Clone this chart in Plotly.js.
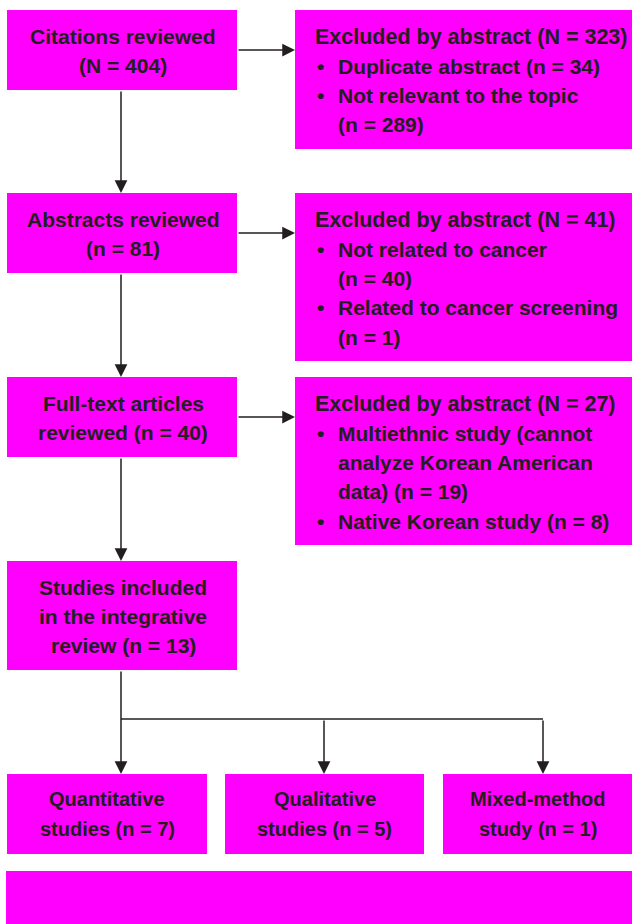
<!DOCTYPE html>
<html><head><meta charset="utf-8">
<script src="https://cdn.plot.ly/plotly-3.0.1.min.js"></script>
<style>html,body{margin:0;padding:0;background:#fff}#c{width:633px;height:924px}</style>
</head><body><div id="c"></div>
<script>
// ---- data ----
const stageLabels = [
  ["Citations reviewed", "(N = 404)"],
  ["Abstracts reviewed", "(n = 81)"],
  ["Full-text articles", "reviewed (n = 40)"],
  ["Studies included", "in the integrative", "review (n = 13)"]
];
const excludedHeadings = ["Excluded by abstract (N = 323)", "Excluded by abstract (N = 41)", "Excluded by abstract (N = 27)"];
const excludedItems = [
  [["Duplicate abstract (n = 34)"], ["Not relevant to the topic", "(n = 289)"]],
  [["Not related to cancer", "(n = 40)"], ["Related to cancer screening", "(n = 1)"]],
  [["Multiethnic study (cannot", "analyze Korean American", "data) (n = 19)"], ["Native Korean study (n = 8)"]]
];
const typeLabels = [
  ["Quantitative", "studies (n = 7)"],
  ["Qualitative", "studies (n = 5)"],
  ["Mixed-method", "study (n = 1)"]
];

// ---- layout geometry ----
const FILL = "#FF00FF", INK = "#231F20";
const FONT = "Liberation Sans, Arial, sans-serif";
const stageBoxes = [[7,237,10,90],[7,237,193,273],[7,237,377,457],[7,237,561,670]];
const exclBoxes = [[295,632,10,149],[295,632,193,361],[295,632,377,545]];
const typeBoxes = [[7,207,774,854],[225,424,774,854],[443,632,774,854]];
const footerBox = [6,632,871,924];
const LH = 29.3;

const shapes = [];
const annotations = [];
function rect(b){ shapes.push({type:"rect", xref:"x", yref:"y", x0:b[0], x1:b[1], y0:b[2], y1:b[3], fillcolor:FILL, line:{width:0}, layer:"below"}); }
function txt(x, y, s, anchor, size){
  annotations.push({x:x, y:y, xref:"x", yref:"y", text:"<b>"+s+"</b>", showarrow:false,
    xanchor:anchor, yanchor:"middle",
    font:{family:FONT, size: size || 21, color:INK, weight:700}});
}
function line(x0,y0,x1,y1){ shapes.push({type:"line", xref:"x", yref:"y", x0:x0,y0:y0,x1:x1,y1:y1, line:{color:INK, width:1.5}}); }
function arrow(x0,y0,x1,y1){
  annotations.push({x:x1, y:y1, ax:x0, ay:y0, xref:"x", yref:"y", axref:"x", ayref:"y", text:"", showarrow:true,
    arrowhead:2, arrowsize:1.7, arrowwidth:1.5, arrowcolor:INK, standoff:0});
}

stageLabels.forEach((lines, i) => {
  const b = stageBoxes[i]; rect(b);
  const cx = (b[0]+b[1])/2 + 1, cy = (b[2]+b[3])/2;
  lines.forEach((s, j) => txt(cx, cy + 1 + (j - (lines.length-1)/2)*LH, s, "center"));
});
excludedHeadings.forEach((h, i) => {
  const b = exclBoxes[i]; rect(b);
  let y = b[2] + 27;
  txt(313, y, h, "left", 21.5);
  excludedItems[i].forEach(item => {
    item.forEach((s, j) => {
      y += LH;
      if (j === 0) txt(315, y, "•", "left");
      txt(336, y, s, "left");
    });
  });
});
typeLabels.forEach((lines, i) => {
  const b = typeBoxes[i]; rect(b);
  const cx = (b[0]+b[1])/2, cy = (b[2]+b[3])/2;
  lines.forEach((s, j) => txt(cx, cy + (j - 0.5)*LH, s, "center", 20));
});
rect(footerBox);

// connectors
for (let i = 0; i < 3; i++) {
  const b = stageBoxes[i], n = stageBoxes[i+1];
  arrow(121, b[3], 121, n[2]);
  const cy = (b[2]+b[3])/2;
  arrow(b[1], cy, exclBoxes[i][0], cy);
}
const branchY = 719;
arrow(121, stageBoxes[3][3], 121, typeBoxes[0][2]);
line(121, branchY, 543, branchY);
arrow(324, branchY, 324, typeBoxes[1][2]);
arrow(543, branchY, 543, typeBoxes[2][2]);

Plotly.newPlot("c", [], {
  width:633, height:924, margin:{l:0,r:0,t:0,b:0},
  paper_bgcolor:"#fff", plot_bgcolor:"#fff", showlegend:false,
  xaxis:{range:[0,633], visible:false, fixedrange:true},
  yaxis:{range:[924,0], visible:false, fixedrange:true},
  shapes:shapes, annotations:annotations
}, {displayModeBar:false, staticPlot:true});
</script></body></html>
